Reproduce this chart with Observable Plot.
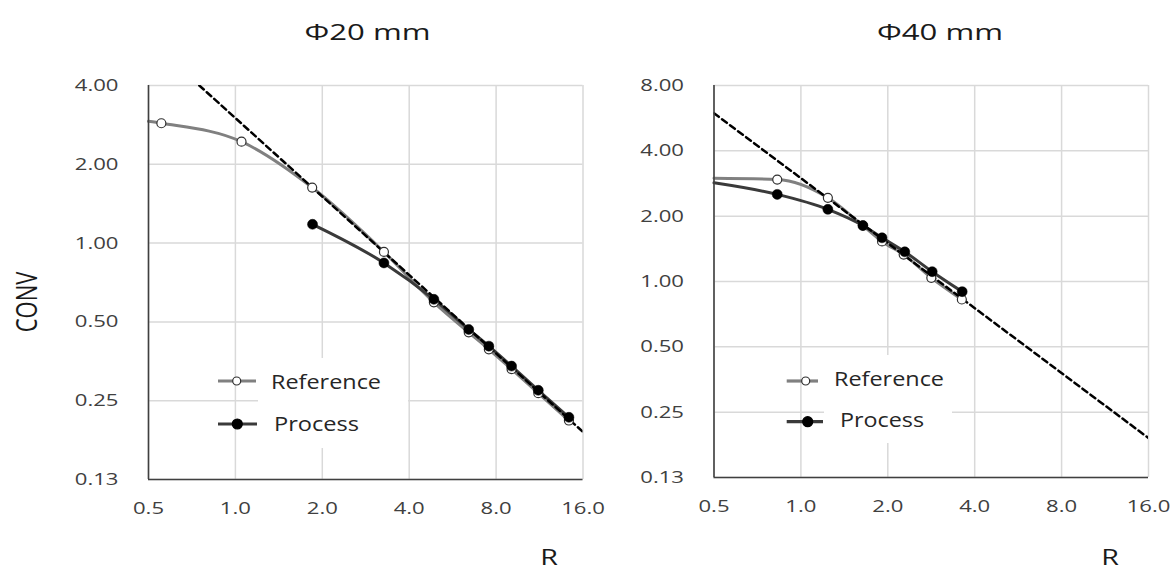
<!DOCTYPE html>
<html><head><meta charset="utf-8">
<script src="https://cdn.jsdelivr.net/npm/d3@7"></script>
<script src="https://cdn.jsdelivr.net/npm/@observablehq/plot@0.6"></script>
<style>
body{margin:0;background:#fff;}
#wrap{position:relative;width:1174px;height:572px;overflow:hidden;font-family:"Open Sans",sans-serif;}
#wrap svg{position:absolute;top:0;overflow:visible;}
</style></head><body><div id="wrap"></div>
<script>
// ---- data ----
const xTicks = [0.5, 1, 2, 4, 8, 16];
const xTickLabels = ["0.5", "1.0", "2.0", "4.0", "8.0", "16.0"];
const yTicks20 = [0.125, 0.25, 0.5, 1, 2, 4];
const yTickLabels20 = ["0.13", "0.25", "0.50", "1.00", "2.00", "4.00"];
const yTicks40 = [0.125, 0.25, 0.5, 1, 2, 4, 8];
const yTickLabels40 = ["0.13", "0.25", "0.50", "1.00", "2.00", "4.00", "8.00"];

// Φ20 mm
const refX20 = [0.5, 0.554, 1.05, 1.845, 3.27, 4.87, 6.43, 7.55, 9.05, 11.2, 14.3];
const refY20 = [2.92, 2.87, 2.44, 1.63, 0.925, 0.594, 0.456, 0.393, 0.330, 0.267, 0.210];
const procX20 = [1.85, 3.27, 4.87, 6.43, 7.55, 9.05, 11.2, 14.3];
const procY20 = [1.18, 0.840, 0.610, 0.468, 0.404, 0.339, 0.274, 0.216];
const dashX20 = [0.75, 16];
const dashY20 = [4, 0.19];

// Φ40 mm
const refX40 = [0.5, 0.828, 1.24, 1.64, 1.91, 2.27, 2.83, 3.61];
const refY40 = [2.99, 2.95, 2.43, 1.81, 1.53, 1.33, 1.04, 0.826];
const procX40 = [0.5, 0.828, 1.24, 1.64, 1.91, 2.29, 2.85, 3.62];
const procY40 = [2.85, 2.52, 2.15, 1.81, 1.59, 1.37, 1.11, 0.898];
const dashX40 = [0.5, 16];
const dashY40 = [5.96, 0.19];

const titles = ["Φ20 mm", "Φ40 mm"];
const seriesNames = ["Reference", "Process"];
const yLabel = "CONV";
const xLabel = "R";

const wrap = document.getElementById("wrap");
const toRows = (xs, ys) => xs.map((x, i) => ({x, y: ys[i]}));

function stretch(svg, k) {
  svg.querySelectorAll("text").forEach(t => {
    const w = t.getComputedTextLength();
    t.setAttribute("textLength", w * k);
    t.setAttribute("lengthAdjust", "spacingAndGlyphs");
  });
}

function panel(o) {
  const ref = toRows(o.refX, o.refY);
  const proc = toRows(o.procX, o.procY);
  const dash = toRows(o.dashX, o.dashY);
  const refM = ref.filter(d => d.x > xTicks[0]);
  const procM = proc.filter(d => d.x > xTicks[0]);
  const svg = Plot.plot({
    width: o.width, height: 572,
    marginLeft: o.ml, marginRight: o.mr, marginTop: 85, marginBottom: o.mb,
    style: {background: "transparent", overflow: "visible", fontFamily: "Open Sans", fontSize: "17px", color: "#404040"},
    x: {type: "log", base: 2, domain: [xTicks[0], xTicks[xTicks.length - 1]]},
    y: {type: "log", base: 2, domain: [o.yTicks[0], o.yTicks[o.yTicks.length - 1]]},
    marks: [
      Plot.gridX(xTicks, {stroke: "#d9d9d9", strokeOpacity: 1, strokeWidth: 1.5}),
      Plot.gridY(o.yTicks, {stroke: "#d9d9d9", strokeOpacity: 1, strokeWidth: 1.5}),
      Plot.line(ref, {x: "x", y: "y", curve: "monotone-x", stroke: "#808080", strokeWidth: 3}),
      Plot.line(proc, {x: "x", y: "y", curve: "monotone-x", stroke: "#3a3a3a", strokeWidth: 3}),
      Plot.line(dash, {x: "x", y: "y", stroke: "#000", strokeWidth: 2.5, strokeDasharray: "6,4", clip: true}),
      Plot.dot(refM, {x: "x", y: "y", r: 4.5, fill: "white", stroke: "#303030", strokeWidth: 1.2}),
      Plot.dot(procM, {x: "x", y: "y", r: 5, fill: "#000", stroke: "#000", strokeWidth: 0.5}),
      Plot.ruleX([xTicks[0]], {stroke: "#404040", strokeWidth: 1.6}),
      Plot.ruleY([o.yTicks[0]], {stroke: "#404040", strokeWidth: 1.6}),
      Plot.axisX(xTicks, {label: null, tickSize: 0, tickPadding: 22, tickFormat: d => xTickLabels[xTicks.indexOf(d)], fill: "#404040"}),
      Plot.axisY(o.yTicks, {label: null, tickSize: 0, tickPadding: 30, tickFormat: d => o.yLabels[o.yTicks.indexOf(d)], fill: "#404040"})
    ]
  });
  svg.style.left = o.left + "px";
  wrap.appendChild(svg);
  stretch(svg, 1.3);
}

panel({left: 0, width: 600, ml: 148, mr: 17.5, mb: 93,
  refX: refX20, refY: refY20, procX: procX20, procY: procY20, dashX: dashX20, dashY: dashY20,
  yTicks: yTicks20, yLabels: yTickLabels20});
panel({left: 600, width: 574, ml: 113.5, mr: 26, mb: 95,
  refX: refX40, refY: refY40, procX: procX40, procY: procY40, dashX: dashX40, dashY: dashY40,
  yTicks: yTicks40, yLabels: yTickLabels40});

// ---- overlay: titles, axis labels, legends ----
const ov = d3.select(wrap).append("svg").attr("width", 1174).attr("height", 572)
  .style("left", "0px").style("font-family", "Open Sans");

function legend(boxX, boxY, boxW, boxH, rows) {
  ov.append("rect").attr("x", boxX).attr("y", boxY).attr("width", boxW).attr("height", boxH).attr("fill", "white");
  rows.forEach(r => {
    ov.append("line").attr("x1", r.x1).attr("x2", r.x2).attr("y1", r.y).attr("y2", r.y)
      .attr("stroke", r.stroke).attr("stroke-width", 3.2);
    ov.append("circle").attr("cx", r.mx).attr("cy", r.y).attr("r", r.r)
      .attr("fill", r.fill).attr("stroke", r.mstroke).attr("stroke-width", 1.2);
    ov.append("text").attr("x", r.tx).attr("y", r.ty).attr("dy", "0.36em")
      .attr("font-size", 20).attr("fill", "#262626")
      .attr("textLength", r.tw).attr("lengthAdjust", "spacingAndGlyphs").text(r.label);
  });
}
legend(258, 358, 150, 90, [
  {x1: 218, x2: 256, y: 381, mx: 236.7, r: 4, fill: "white", mstroke: "#303030", stroke: "#808080", tx: 271, ty: 381.5, tw: 110, label: seriesNames[0]},
  {x1: 218, x2: 257, y: 424, mx: 237.3, r: 5, fill: "#000", mstroke: "#000", stroke: "#3a3a3a", tx: 274, ty: 423.5, tw: 85, label: seriesNames[1]}
]);
legend(824, 355, 128, 88, [
  {x1: 786.7, x2: 818, y: 381, mx: 805.7, r: 4, fill: "white", mstroke: "#303030", stroke: "#808080", tx: 834, ty: 379, tw: 110, label: seriesNames[0]},
  {x1: 786.7, x2: 823, y: 421.7, mx: 807.7, r: 5, fill: "#000", mstroke: "#000", stroke: "#3a3a3a", tx: 840, ty: 420, tw: 84, label: seriesNames[1]}
]);

// titles
[[367.5, titles[0]], [940, titles[1]]].forEach(([cx, t]) => {
  ov.append("text").attr("x", cx).attr("y", 40).attr("text-anchor", "middle")
    .attr("font-size", 22).attr("fill", "#1a1a1a")
    .attr("textLength", 126).attr("lengthAdjust", "spacingAndGlyphs").text(t);
});
// y label
ov.append("text").attr("transform", "translate(27,302) scale(1.3,1) rotate(-90)")
  .attr("text-anchor", "middle").attr("dy", "0.36em").attr("font-size", 22).attr("fill", "#1a1a1a").text(yLabel);
// x labels
[549, 1110].forEach(cx => {
  ov.append("text").attr("transform", `translate(${cx},557) scale(1.3,1)`)
    .attr("text-anchor", "middle").attr("dy", "0.36em").attr("font-size", 22).attr("fill", "#1a1a1a").text(xLabel);
});
</script></body></html>
